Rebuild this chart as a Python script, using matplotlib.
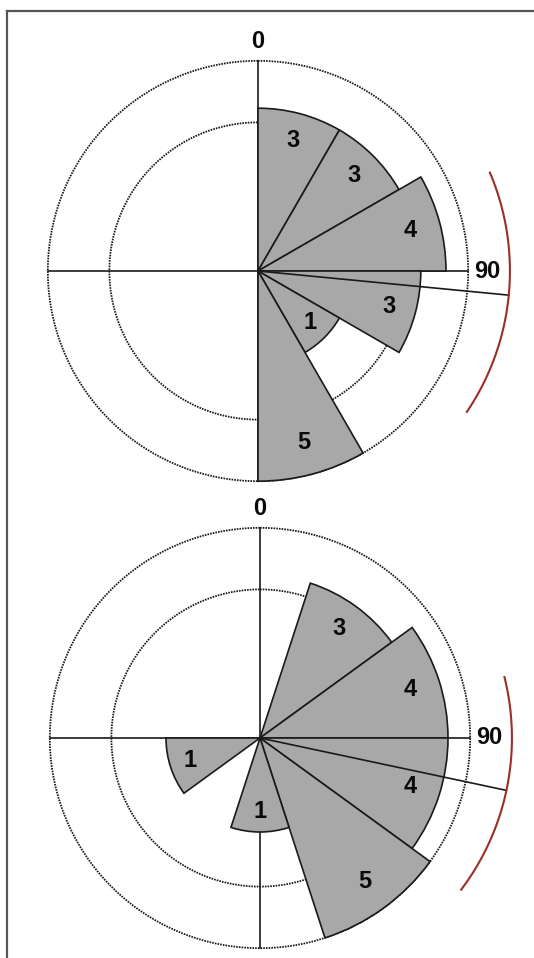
import numpy as np
import matplotlib.pyplot as plt
from matplotlib.lines import Line2D

plt.rcParams['font.family'] = ['Liberation Sans', 'DejaVu Sans']

# upper rose: 12 bins of 30 deg starting at 0
top_counts = [3, 3, 4, 3, 1, 5, 0, 0, 0, 0, 0, 0]
top_start = 0
top_mean = 95.5
top_ci = [67, 124]

# lower rose: 10 bins of 36 deg starting at 18
bot_counts = [3, 4, 4, 5, 1, 0, 1, 0, 0, 0]
bot_start = 18
bot_mean = 102
bot_ci = [76, 127]

ring_counts = [2.5, 5]   # dotted reference circles

W, H = 534, 958
unit = 94.0      # px per sqrt(count)
rlim = 2.75

fig = plt.figure(figsize=(W / 100, H / 100), dpi=100)


def rose(cx, cy, counts, start, mean, ci):
    size = 2 * rlim * unit
    ax = fig.add_axes([(cx - size / 2) / W, 1 - (cy + size / 2) / H, size / W, size / H],
                      projection='polar')
    ax.set_theta_zero_location('N')
    ax.set_theta_direction(-1)
    ax.set_ylim(0, rlim)
    ax.set_axis_off()

    counts = np.array(counts)
    nb = len(counts)
    bw = 360.0 / nb
    centers = np.deg2rad(start + bw * (np.arange(nb) + 0.5))
    R = np.sqrt(max(ring_counts))

    # dotted rings
    t = np.linspace(0, 2 * np.pi, 500)
    for rc in ring_counts:
        ax.plot(t, np.full_like(t, np.sqrt(rc)), color='#1a1a1a', lw=1.3,
                ls=(0, (0.9, 0.6)), zorder=1)

    # cross lines
    for a in [0, 90, 180, 270]:
        ax.plot([np.deg2rad(a)] * 2, [0, R], color='#1a1a1a', lw=1.2, zorder=1)

    # petals
    nz = counts > 0
    ax.bar(centers[nz], np.sqrt(counts[nz]), width=np.deg2rad(bw),
           color='#a8a8a8', edgecolor='#1a1a1a', linewidth=1.2, zorder=2)
    for c, n in zip(centers[nz], counts[nz]):
        ax.text(c, 0.9 * np.sqrt(n) - 0.12, str(n), ha='center', va='center',
                fontsize=17, fontweight='bold', color='#0a0a0a', zorder=4)

    # mean direction and confidence arc
    ra = 2.68
    ax.plot([np.deg2rad(mean)] * 2, [0, ra], color='#1a1a1a', lw=1.2, zorder=3)
    ta = np.deg2rad(np.linspace(ci[0], ci[1], 100))
    ax.plot(ta, np.full_like(ta, ra), color='#9c2e2a', lw=1.5, zorder=3)

    ax.text(0, R + 0.21, '0', ha='center', va='center', fontsize=17,
            fontweight='bold', color='#0a0a0a')
    ax.text(np.deg2rad(90), R + 0.06, '90', ha='left', va='center', fontsize=17,
            fontweight='bold', color='#0a0a0a')
    return ax


rose(258, 271, top_counts, top_start, top_mean, top_ci)
rose(260, 738, bot_counts, bot_start, bot_mean, bot_ci)

# frame (left and top edges only visible)
fig.add_artist(Line2D([6.5 / W, 6.5 / W], [0, 1 - 11 / H], color='#555555', lw=1.6))
fig.add_artist(Line2D([6.5 / W, 1], [1 - 11 / H, 1 - 11 / H], color='#555555', lw=1.6))

fig.savefig('out.png', dpi=100)
